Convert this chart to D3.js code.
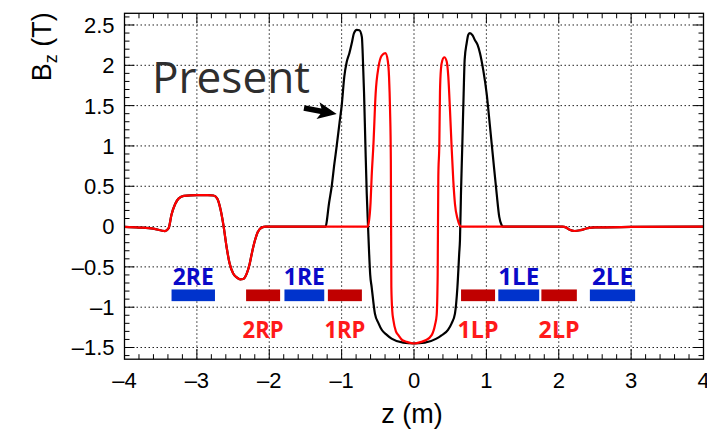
<!DOCTYPE html>
<html><head><meta charset="utf-8">
<script src="https://cdn.jsdelivr.net/npm/d3@7"></script>
<style>body{margin:0;background:#fff}svg{display:block}</style>
</head><body>
<script>
// ---- data ----
const redZ = [-4.0,-3.8,-3.6,-3.44,-3.39,-3.35,-3.3,-3.25,-3.18,-3.0,-2.85,-2.77,-2.72,-2.67,-2.63,-2.59,-2.55,-2.5,-2.45,-2.4,-2.36,-2.31,-2.27,-2.24,-2.2,-2.16,-2.1,-2.05,-1.0,-0.64,-0.625,-0.6,-0.585,-0.56,-0.53,-0.49,-0.446,-0.396,-0.363,-0.345,-0.331,-0.32,-0.313,-0.3,-0.285,-0.25,-0.216,-0.16,-0.1,0.0,0.1,0.16,0.244,0.29,0.313,0.327,0.336,0.35,0.359,0.373,0.391,0.419,0.451,0.474,0.497,0.52,0.543,0.566,0.603,0.65,2.05,2.1,2.15,2.22,2.3,2.4,2.5,3.0,4.0];
const redB = [-0.005,-0.012,-0.025,-0.056,-0.02,0.15,0.28,0.35,0.38,0.39,0.39,0.385,0.35,0.2,0.0,-0.25,-0.45,-0.58,-0.63,-0.655,-0.65,-0.58,-0.46,-0.33,-0.18,-0.07,-0.01,0,0,0,0.05,0.3,0.62,1.03,1.65,1.98,2.12,2.15,2.06,1.86,1.45,0.83,-0.75,-1.05,-1.16,-1.3,-1.346,-1.41,-1.43,-1.45,-1.43,-1.41,-1.346,-1.22,-1.1,-0.6,0.62,1.03,1.67,1.96,2.06,2.10,2.05,1.86,1.45,0.98,0.57,0.28,0.09,0,0,-0.01,-0.04,-0.055,-0.045,-0.02,-0.01,-0.005,0];
const blackZ = [-4.0,-3.8,-3.6,-3.44,-3.39,-3.35,-3.3,-3.25,-3.18,-3.0,-2.85,-2.77,-2.72,-2.67,-2.63,-2.59,-2.55,-2.5,-2.45,-2.4,-2.36,-2.31,-2.27,-2.24,-2.2,-2.16,-2.1,-2.05,-1.22,-1.2,-1.18,-1.137,-1.1,-1.068,-1.03,-0.999,-0.963,-0.93,-0.893,-0.861,-0.829,-0.792,-0.755,-0.72,-0.709,-0.69,-0.672,-0.653,-0.635,-0.62,-0.605,-0.585,-0.54,-0.49,-0.446,-0.38,-0.31,-0.15,0.0,0.15,0.31,0.38,0.47,0.52,0.566,0.6,0.625,0.635,0.649,0.668,0.686,0.70,0.727,0.75,0.773,0.81,0.843,0.88,0.912,0.957,1.004,1.05,1.095,1.142,1.178,1.21,1.23,2.05,2.1,2.15,2.22,2.3,2.4,2.5,3.0,4.0];
const blackB = [-0.005,-0.012,-0.025,-0.056,-0.02,0.15,0.28,0.35,0.38,0.39,0.39,0.385,0.35,0.2,0.0,-0.25,-0.45,-0.58,-0.63,-0.655,-0.65,-0.58,-0.46,-0.33,-0.18,-0.07,-0.01,0,0,0.1,0.25,0.5,0.78,1.0,1.28,1.5,1.86,2.04,2.15,2.27,2.40,2.44,2.435,2.35,2.15,1.65,1.03,0.41,0.0,-0.33,-0.6,-0.75,-1.08,-1.2,-1.28,-1.34,-1.39,-1.44,-1.45,-1.44,-1.39,-1.35,-1.28,-1.2,-1.08,-0.75,-0.33,-0.17,0.41,1.03,1.65,2.07,2.27,2.38,2.40,2.37,2.31,2.25,2.15,1.94,1.65,1.24,0.83,0.41,0.12,0.02,0,0,-0.01,-0.04,-0.055,-0.045,-0.02,-0.01,-0.005,0];
const blueBarStart = [-3.35,-1.79,1.165,2.43];
const blueBarEnd   = [-2.75,-1.24,1.73,3.055];
const blueLabels   = ["2RE","1RE","1LE","2LE"];
const redBarStart  = [-2.32,-1.19,0.65,1.76];
const redBarEnd    = [-1.85,-0.72,1.12,2.25];
const redLabels    = ["2RP","1RP","1LP","2LP"];
const barTop = -0.78, barBottom = -0.925;
const xTicks = [-4,-3,-2,-1,0,1,2,3,4];
const yTicks = [-1.5,-1,-0.5,0,0.5,1,1.5,2,2.5];
const annotText = "Present";
const annotTextPos = [-3.62, 1.656];
const arrowTail = [-1.52, 1.47];
const arrowTip = [-1.068, 1.396];

// ---- layout ----
const W = 707, H = 432;
const L = 124.5, R = 703.5, T = 13.3, B = 359.2;
const svg = d3.select("body").append("svg").attr("width", W).attr("height", H);
const x = d3.scaleLinear().domain([-4,4]).range([L,R]);
const y = d3.scaleLinear().domain([-1.645,2.645]).range([B,T]);
const fmt = v => (v<0 ? "\u2013" : "") + String(Math.abs(v));

// grid
const g = svg.append("g");
g.selectAll(".gx").data(xTicks.slice(1,-1)).join("line")
  .attr("x1", d=>x(d)).attr("x2", d=>x(d)).attr("y1", T).attr("y2", B)
  .attr("stroke","#222").attr("stroke-width",1).attr("stroke-dasharray","1.5,2.5");
g.selectAll(".gy").data(yTicks).join("line")
  .attr("y1", d=>y(d)).attr("y2", d=>y(d)).attr("x1", L).attr("x2", R)
  .attr("stroke","#222").attr("stroke-width",1).attr("stroke-dasharray","1.5,2.5");

// ticks
const minorX = d3.range(-40,41,2).map(v=>v/10);
const minorY = d3.range(-16,27,1).map(v=>v/10);
const tk = svg.append("g").attr("stroke","#000").attr("stroke-width",1);
minorX.forEach(v=>{
  const major = Math.abs(v - Math.round(v))<1e-9;
  const len = major?10:5;
  tk.append("line").attr("x1",x(v)).attr("x2",x(v)).attr("y1",B).attr("y2",B-len);
  tk.append("line").attr("x1",x(v)).attr("x2",x(v)).attr("y1",T).attr("y2",T+len);
});
minorY.forEach(v=>{
  const major = Math.abs(v*2 - Math.round(v*2))<1e-9;
  const len = major?10:5;
  tk.append("line").attr("y1",y(v)).attr("y2",y(v)).attr("x1",L).attr("x2",L+len);
  tk.append("line").attr("y1",y(v)).attr("y2",y(v)).attr("x1",R).attr("x2",R-len);
});

// bars
svg.selectAll(".bb").data(blueBarStart).join("rect")
  .attr("x",(d,i)=>x(d)).attr("width",(d,i)=>x(blueBarEnd[i])-x(d))
  .attr("y",y(barTop)).attr("height",y(barBottom)-y(barTop)).attr("fill","#0033cc");
svg.selectAll(".rb").data(redBarStart).join("rect")
  .attr("x",(d,i)=>x(d)).attr("width",(d,i)=>x(redBarEnd[i])-x(d))
  .attr("y",y(barTop)).attr("height",y(barBottom)-y(barTop)).attr("fill","#c00000");
svg.selectAll(".bl").data(blueLabels).join("text")
  .attr("x",(d,i)=>(x(blueBarStart[i])+x(blueBarEnd[i]))/2 - 20.5).attr("y",y(barTop)-4)
  .attr("font-family","Open Sans, sans-serif").attr("font-weight","bold")
  .attr("font-size",23).attr("fill","#0a0ac8")
  .attr("textLength",41).attr("lengthAdjust","spacingAndGlyphs").text(d=>d);
svg.selectAll(".rl").data(redLabels).join("text")
  .attr("x",(d,i)=>(x(redBarStart[i])+x(redBarEnd[i]))/2 - 20.5).attr("y",y(barBottom)+36.5)
  .attr("font-family","Open Sans, sans-serif").attr("font-weight","bold")
  .attr("font-size",23).attr("fill","#ff1a1a")
  .attr("textLength",41).attr("lengthAdjust","spacingAndGlyphs").text(d=>d);

// curves
const line = d3.line().x(d=>x(d[0])).y(d=>y(d[1])).curve(d3.curveMonotoneX);
svg.append("path").attr("d", line(blackZ.map((z,i)=>[z,blackB[i]])))
  .attr("fill","none").attr("stroke","#000").attr("stroke-width",2.2).attr("stroke-linejoin","round");
svg.append("path").attr("d", line(redZ.map((z,i)=>[z,redB[i]])))
  .attr("fill","none").attr("stroke","#ff0000").attr("stroke-width",2.2).attr("stroke-linejoin","round");

// frame
svg.append("rect").attr("x",L).attr("y",T).attr("width",R-L).attr("height",B-T)
  .attr("fill","none").attr("stroke","#000").attr("stroke-width",1.3);

// tick labels
svg.selectAll(".xl").data(xTicks).join("text")
  .attr("x",d=>x(d)).attr("y",B+29).attr("text-anchor","middle")
  .attr("font-family","Liberation Sans, Arial, sans-serif").attr("font-size",22).text(fmt);
svg.selectAll(".yl").data(yTicks).join("text")
  .attr("x",L-10).attr("y",d=>y(d)).attr("dy","0.36em").attr("text-anchor","end")
  .attr("font-family","Liberation Sans, Arial, sans-serif").attr("font-size",22).text(fmt);

// axis titles
svg.append("text").attr("x",(L+R)/2 - 2).attr("y",423).attr("text-anchor","middle")
  .attr("font-family","Liberation Sans, Arial, sans-serif").attr("font-size",27).text("z (m)");
const yt = svg.append("text").attr("transform",`translate(51,${T-1}) rotate(-90)`).attr("text-anchor","end")
  .attr("font-family","Liberation Sans, Arial, sans-serif").attr("font-size",27);
yt.append("tspan").text("B");
yt.append("tspan").attr("font-size",18).attr("dy",6).text("z");
yt.append("tspan").attr("dy",-6).text(" (T)");

// annotation
svg.append("text").attr("x",x(annotTextPos[0])).attr("y",y(annotTextPos[1]))
  .attr("font-family","Open Sans, sans-serif").attr("font-size",43).attr("fill","#2e2e2e")
  .attr("textLength",158).attr("lengthAdjust","spacingAndGlyphs").text(annotText);
const tx = x(arrowTail[0]), ty = y(arrowTail[1]), px = x(arrowTip[0]), py = y(arrowTip[1]);
const ang = Math.atan2(py-ty, px-tx), len = Math.hypot(px-tx, py-ty);
const arr = svg.append("g").attr("transform",`translate(${tx},${ty}) rotate(${ang*180/Math.PI})`);
arr.append("polygon").attr("fill","#000")
  .attr("points",[[0,-2.8],[len-16,-2.8],[len-19,-8.5],[len,0],[len-19,8.5],[len-16,2.8],[0,2.8]].map(p=>p.join(",")).join(" "));
</script>
</body></html>
